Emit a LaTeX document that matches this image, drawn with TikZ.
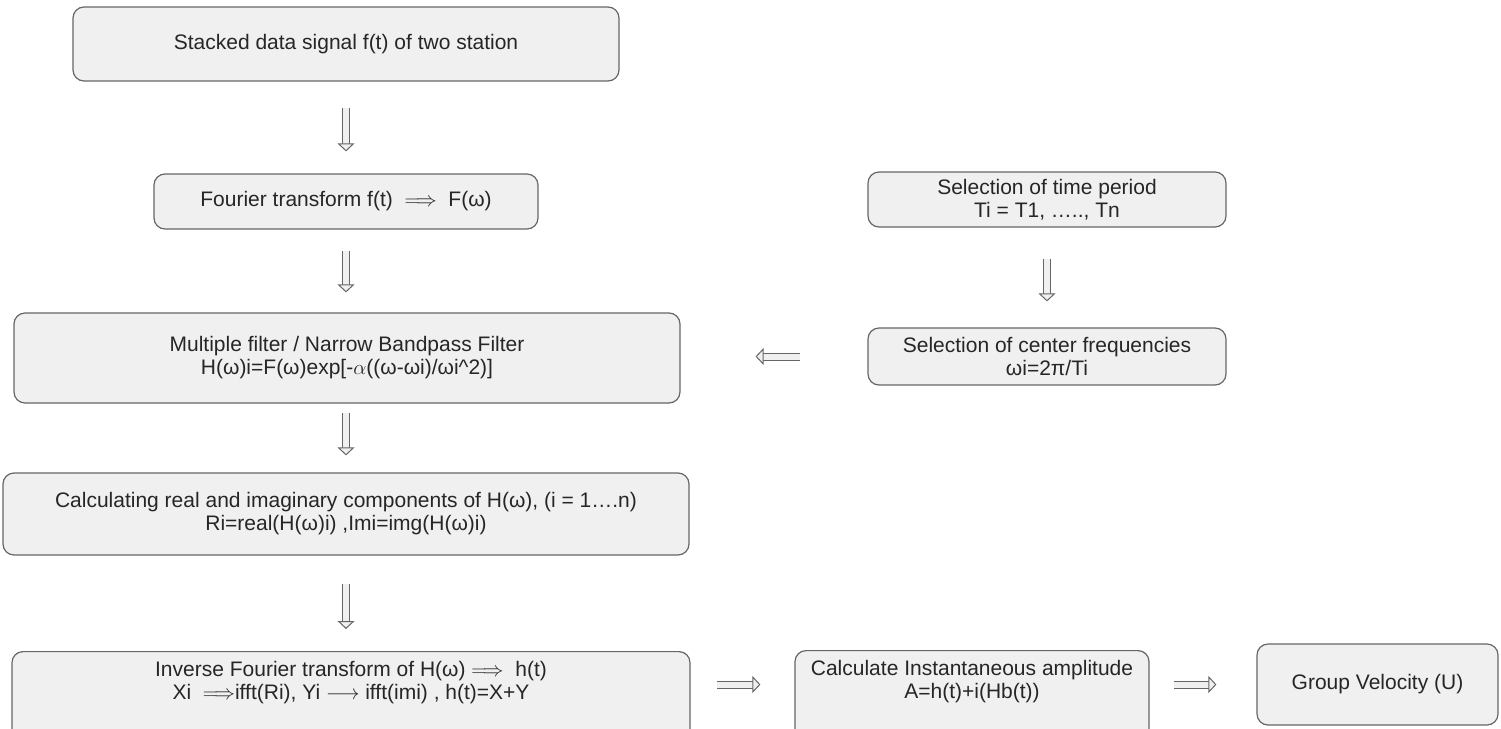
\documentclass[tikz,border=0pt]{standalone}
\usepackage{fontspec}
\setmainfont{Liberation Sans}
\usetikzlibrary{arrows.meta}

\begin{document}
\begin{tikzpicture}[
		x={(1pt,0pt)},
		y={(0pt,-1pt)},
		box/.style={draw=black!60, line width=1.2pt, fill=black!6, rounded corners=11pt, align=center, text=black!85, inner sep=0pt, font=\fontsize{21}{23}\selectfont},
		textup/.style={anchor=north, text depth=58pt, inner ysep=10pt},
		flow/.style={draw=black!60, line width=1pt, double=black!6, double distance=6pt, -{Triangle[open, fill=black!6, line width=1pt, length=8pt, width=17pt]}},
	]
		\useasboundingbox (0,0) rectangle (1501,728);
		
		% left column
		\node[box, minimum width=546pt, minimum height=74pt] (sig) at (346,44) {Stacked data signal f(t) of two station};
		\node[box, minimum width=384pt, minimum height=55pt] (ft) at (346,201.5) {Fourier transform f(t) \ $\Longrightarrow$ \ F(ω)};
		\node[box, minimum width=666pt, minimum height=90pt] (mf) at (347,358) {Multiple filter / Narrow Bandpass Filter\\H(ω)i=F(ω)exp[-$\alpha$((ω-ωi)/ωi\^{}2)]};
		\node[box, minimum width=686pt, minimum height=82pt] (calc) at (346,514) {Calculating real and imaginary components of H(ω), (i = 1….n)\\Ri=real(H(ω)i) ,Imi=img(H(ω)i)};
		\node[box, textup, minimum width=678pt] (inv) at (351,651) {Inverse Fourier transform of H(ω) $\Longrightarrow$ \ h(t)\\Xi \ $\Longrightarrow$ifft(Ri), Yi $\longrightarrow$ ifft(imi) , h(t)=X+Y};
		
		% right column
		\node[box, minimum width=358pt, minimum height=55pt] (time) at (1047,199.5) {Selection of time period\\Ti = T1, ….., Tn};
		\node[box, minimum width=358pt, minimum height=57pt] (cf) at (1047,356.5) {Selection of center frequencies\\ωi=2π/Ti};
		
		% bottom row
		\node[box, textup, minimum width=354pt] (ci) at (972,650) {Calculate Instantaneous amplitude\\A=h(t)+i(Hb(t))};
		\node[box, minimum width=241pt, minimum height=81pt] (gv) at (1377.5,684.5) {Group Velocity (U)};
		
		\draw[flow, shorten <=26pt, shorten >=22pt] (sig) -- (ft);
		\draw[flow, shorten <=21pt, shorten >=20pt] (ft) -- (ft |- mf.north);
		\draw[flow, shorten <=9pt, shorten >=17pt] (mf.south -| calc) -- (calc);
		\draw[flow, shorten <=28pt, shorten >=22pt] (calc) -- (calc |- inv.north);
		\draw[flow, shorten <=31pt, shorten >=26pt] (time) -- (cf);
		\draw[flow, shorten <=67pt, shorten >=75pt] (cf.west) -- (mf.east |- cf.west);
		\draw[flow, shorten <=26pt, shorten >=34pt] (inv.east |- gv.west) -- (ci.west |- gv.west);
		\draw[flow, shorten <=24pt, shorten >=40pt] (ci.east |- gv.west) -- (gv.west);
	\end{tikzpicture}
\end{document}
